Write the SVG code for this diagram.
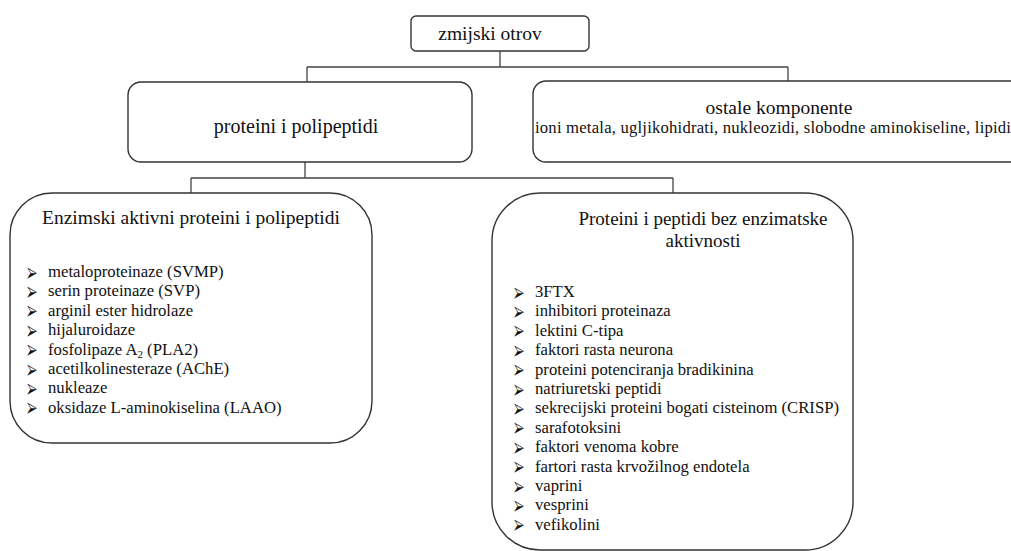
<svg xmlns="http://www.w3.org/2000/svg" width="1011" height="551" viewBox="0 0 1011 551">
<defs>
<style>
.box{fill:#fff;stroke:#333;stroke-width:1.4}
.con{fill:none;stroke:#444;stroke-width:1.3}
</style>
</defs>
<rect width="1011" height="551" fill="#fff"/>
<g id="connectors">
<path class="con" d="M500 51V67M307 67H788M307 67V82M788 67V81"/>
<path class="con" d="M305 162V178M191 178H673M191 178V193M673 178V193"/>
</g>
<g id="n-root">
<rect class="box" x="411" y="16" width="178" height="35" rx="5"/>
<text x="490" y="40" font-family="Liberation Serif" font-size="19.5" text-anchor="middle" fill="#111">zmijski otrov</text>
</g>
<g id="n-proteini">
<rect class="box" x="128" y="82" width="344" height="80" rx="13"/>
<text x="296" y="133" font-family="Liberation Serif" font-size="20" text-anchor="middle" fill="#111">proteini i polipeptidi</text>
</g>
<g id="n-ostale">
<rect class="box" x="533" y="81" width="500" height="81" rx="13"/>
<text x="779" y="114" font-family="Liberation Serif" font-size="19.5" text-anchor="middle" fill="#111">ostale komponente</text>
<text x="535" y="133" font-family="Liberation Serif" font-size="16.7" fill="#111" textLength="476" lengthAdjust="spacing">ioni metala, ugljikohidrati, nukleozidi, slobodne aminokiseline, lipidi</text>
</g>
<g id="n-enzimski">
<rect class="box" x="10" y="193" width="362" height="250" rx="42"/>
<text x="191" y="224" font-family="Liberation Serif" font-size="19.5" text-anchor="middle" fill="#111">Enzimski aktivni proteini i polipeptidi</text>
<g font-family="DejaVu Sans" font-size="14" fill="#111">
<text x="27" y="276.5">⮚</text><text x="27" y="295.9">⮚</text><text x="27" y="315.3">⮚</text><text x="27" y="334.7">⮚</text>
<text x="27" y="354.1">⮚</text><text x="27" y="373.5">⮚</text><text x="27" y="392.9">⮚</text><text x="27" y="412.3">⮚</text>
</g>
<g font-family="Liberation Serif" font-size="16.7" fill="#111">
<text x="48" y="277">metaloproteinaze (SVMP)</text>
<text x="48" y="296.4">serin proteinaze (SVP)</text>
<text x="48" y="315.8">arginil ester hidrolaze</text>
<text x="48" y="335.2">hijaluroidaze</text>
<text x="48" y="354.6">fosfolipaze A<tspan font-size="11" dy="3">2</tspan><tspan dy="-3"> (PLA2)</tspan></text>
<text x="48" y="374">acetilkolinesteraze (AChE)</text>
<text x="48" y="393.4">nukleaze</text>
<text x="48" y="412.8">oksidaze L-aminokiselina (LAAO)</text>
</g>
</g>
<g id="n-neenzimski">
<rect class="box" x="492" y="193" width="361" height="357" rx="48"/>
<text x="703" y="225" font-family="Liberation Serif" font-size="19" text-anchor="middle" fill="#111">Proteini i peptidi bez enzimatske</text>
<text x="703" y="247" font-family="Liberation Serif" font-size="19" text-anchor="middle" fill="#111">aktivnosti</text>
<g font-family="DejaVu Sans" font-size="14" fill="#111">
<text x="514" y="296.5">⮚</text><text x="514" y="315.9">⮚</text><text x="514" y="335.3">⮚</text><text x="514" y="354.7">⮚</text>
<text x="514" y="374.1">⮚</text><text x="514" y="393.5">⮚</text><text x="514" y="412.9">⮚</text><text x="514" y="432.3">⮚</text>
<text x="514" y="451.7">⮚</text><text x="514" y="471.1">⮚</text><text x="514" y="490.5">⮚</text><text x="514" y="509.9">⮚</text>
<text x="514" y="529.3">⮚</text>
</g>
<g font-family="Liberation Serif" font-size="16.7" fill="#111">
<text x="535" y="297">3FTX</text>
<text x="535" y="316.4">inhibitori proteinaza</text>
<text x="535" y="335.8">lektini C-tipa</text>
<text x="535" y="355.2">faktori rasta neurona</text>
<text x="535" y="374.6">proteini potenciranja bradikinina</text>
<text x="535" y="394">natriuretski peptidi</text>
<text x="535" y="413.4">sekrecijski proteini bogati cisteinom (CRISP)</text>
<text x="535" y="432.8">sarafotoksini</text>
<text x="535" y="452.2">faktori venoma kobre</text>
<text x="535" y="471.6">fartori rasta krvožilnog endotela</text>
<text x="535" y="491">vaprini</text>
<text x="535" y="510.4">vesprini</text>
<text x="535" y="529.8">vefikolini</text>
</g>
</g>
</svg>
